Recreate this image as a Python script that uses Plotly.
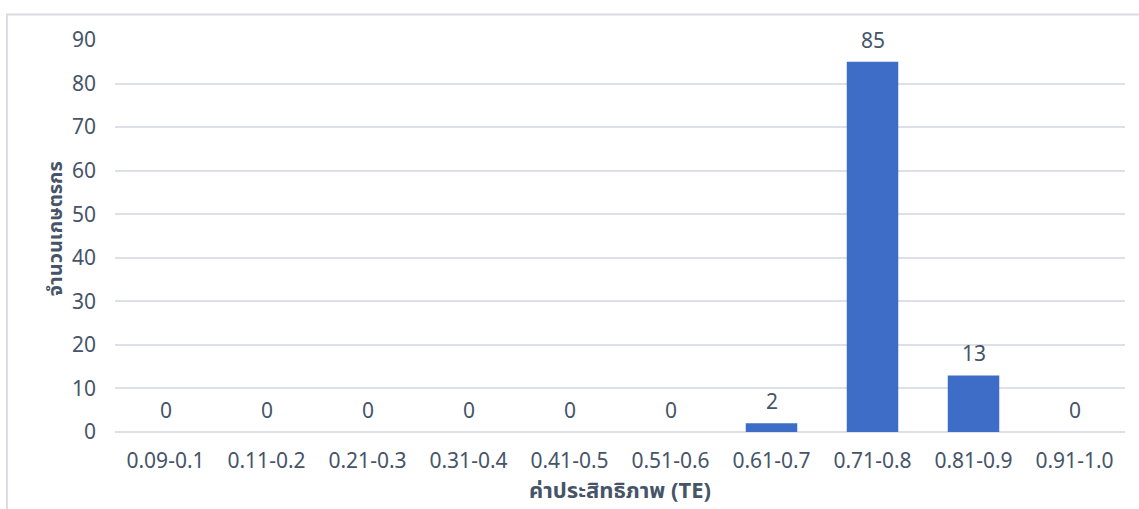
import plotly.graph_objects as go

# TE score ranges and number of farmers in each range
te_ranges = ["0.09-0.1", "0.11-0.2", "0.21-0.3", "0.31-0.4", "0.41-0.5",
             "0.51-0.6", "0.61-0.7", "0.71-0.8", "0.81-0.9", "0.91-1.0"]
farmer_counts = [0, 0, 0, 0, 0, 0, 2, 85, 13, 0]
y_ticks = [0, 10, 20, 30, 40, 50, 60, 70, 80, 90]

text_color = "#465468"
grid_color = "#dde1e7"
font_family = "Segoe UI, Noto Sans, Noto Sans Thai, Tahoma, DejaVu Sans, sans-serif"

fig = go.Figure(
    go.Bar(
        x=te_ranges,
        y=farmer_counts,
        marker=dict(color="#3d6dc6", line=dict(width=0)),
        hoverinfo="x+y",
    )
)

# value labels sitting above each bar
for cat, val in zip(te_ranges, farmer_counts):
    fig.add_annotation(
        x=cat, y=val, text=str(val), showarrow=False,
        yanchor="middle", yshift=22,
        font=dict(size=21, color=text_color, family=font_family),
    )

# vertical axis title placed beside the tick labels
fig.add_annotation(
    xref="paper", yref="paper", x=-0.0604, y=0.52,
    text="<b>จำนวนเกษตรกร</b>", textangle=-90, showarrow=False,
    xanchor="center", yanchor="middle",
    font=dict(size=20, color=text_color, family=font_family),
)

fig.update_layout(
    width=1139,
    height=509,
    margin=dict(l=115, r=14, t=40, b=77),
    paper_bgcolor="white",
    plot_bgcolor="white",
    bargap=0.49,
    showlegend=False,
    font=dict(family=font_family, color=text_color, size=21),
    xaxis=dict(
        showgrid=False,
        showline=False,
        ticks="",
        ticklabelstandoff=14,
        tickfont=dict(size=21, color=text_color),
        title=dict(text="<b>ค่าประสิทธิภาพ (TE)</b>",
                   font=dict(size=22, color=text_color), standoff=8),
    ),
    yaxis=dict(
        range=[0, 90],
        tickvals=y_ticks,
        showgrid=True,
        gridcolor=grid_color,
        gridwidth=2,
        zeroline=True,
        zerolinecolor=grid_color,
        zerolinewidth=2,
        showline=False,
        ticks="",
        ticklabelstandoff=18,
        tickfont=dict(size=21, color=text_color),
    ),
    shapes=[
        dict(type="rect", xref="paper", yref="paper",
             x0=-0.107, x1=1.05, y0=-0.3, y1=1.065,
             line=dict(color="#d9dde3", width=2), fillcolor="rgba(0,0,0,0)",
             layer="below"),
    ],
)

fig.write_html("out.html")
